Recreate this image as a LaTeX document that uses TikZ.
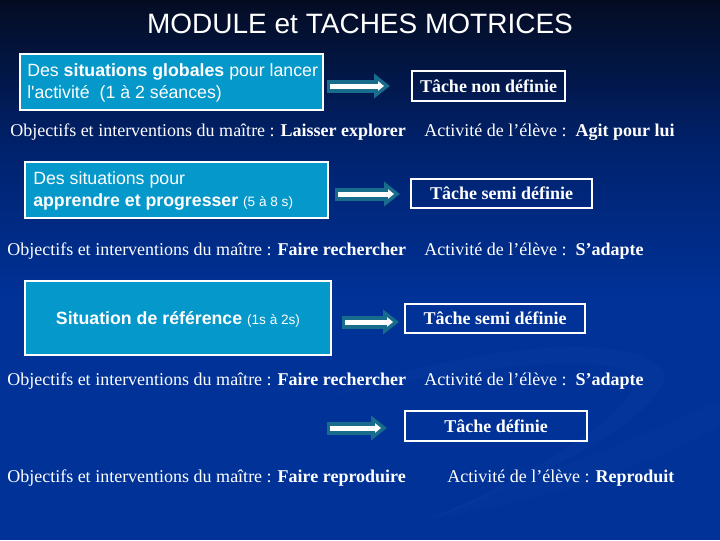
\documentclass[tikz,border=0pt]{standalone}
\usepackage{fontspec}
\setmainfont{Liberation Serif}
\newfontfamily\arialf{Liberation Sans}
\newcommand\smallarial{\arialf\mdseries\fontsize{10.2}{12}\selectfont}
\usetikzlibrary{arrows.meta}
\definecolor{bgtop}{RGB}{4,12,34}
\definecolor{bgmid}{RGB}{0,34,110}
\definecolor{bgbot}{RGB}{0,50,152}
\definecolor{boxblue}{RGB}{5,152,202}
\definecolor{arrteal}{RGB}{24,108,140}
\definecolor{swoosh}{RGB}{25,70,165}
\tikzset{
  bluebox/.style={draw=white, line width=0.8pt, fill=boxblue, inner sep=0pt},
  tachebox/.style={draw=white, line width=0.8pt, inner sep=0pt, text=white, font=\bfseries\fontsize{13.5}{15}\selectfont},
  boxtext/.style={text=white, inner sep=0pt, font=\arialf\fontsize{13.3}{16.5}\selectfont, align=left, anchor=west},
  linetext/.style={text=white, inner sep=0pt, font=\fontsize{13.5}{15}\selectfont, anchor=west},
  tealarrow/.style={draw=arrteal, line width=9.75pt, -{Triangle[length=12pt,width=18pt]}},
  whitearrow/.style={draw=white, line width=3.75pt, -{Triangle[length=4.5pt,width=7pt]}},
}
\begin{document}
\begin{tikzpicture}[x=0.75pt,y=-0.75pt]
\useasboundingbox (0,0) rectangle (720,540);
% background
\fill[bgbot] (0,0) rectangle (720,540);
\shade[top color=bgtop, bottom color=bgbot, middle color=bgmid] (0,0) rectangle (720,300);
% faint swoosh
\fill[swoosh, opacity=0.18] (330,395) .. controls (500,335) and (650,335) .. (665,375) .. controls (660,415) and (560,470) .. (430,520) .. controls (560,460) and (635,410) .. (635,378) .. controls (615,352) and (500,362) .. (330,395) -- cycle;
\fill[swoosh, opacity=0.12] (420,520) .. controls (560,470) and (680,420) .. (720,400) -- (720,425) .. controls (660,460) and (560,500) .. (420,520) -- cycle;
% title
\node[text=white, font=\arialf\fontsize{21}{25}\selectfont] (title) at (360,24) {MODULE et TACHES MOTRICES};
% row 1
\node[bluebox, minimum width=227.25pt, minimum height=42pt] (b1) at (171.5,82) {};
\node[boxtext] (b1t) at (27,83) {Des \textbf{situations globales} pour lancer\\l'activité\ \ (1 à 2 séances)};
\node[tachebox, minimum width=114.75pt, minimum height=22.5pt] (t1) at (488.5,86) {Tâche non définie};
\coordinate (a1s) at (327,86);
\coordinate (a1e) at (390,86);
\coordinate (w1s) at (330,86);
\coordinate (w1e) at (384,86);
\draw[tealarrow] (a1s) -- (a1e);
\draw[whitearrow] (w1s) -- (w1e);
\node[linetext] (o1) at (10,132) {Objectifs et interventions du maître : \textbf{Laisser explorer}};
\node[linetext] (e1) at (424,132) {Activité de l’élève :\ \ \textbf{Agit pour lui}};
% row 2
\node[bluebox, minimum width=227.25pt, minimum height=42pt] (b2) at (176.5,190) {};
\node[boxtext] (b2t) at (33,191) {Des situations pour\\\textbf{apprendre et progresser} {\smallarial(5 à 8 s)}};
\node[tachebox, minimum width=135.75pt, minimum height=21.75pt] (t2) at (501.5,193.5) {Tâche semi définie};
\coordinate (a2s) at (335,194);
\coordinate (a2e) at (400,194);
\coordinate (w2s) at (338,194);
\coordinate (w2e) at (394,194);
\draw[tealarrow] (a2s) -- (a2e);
\draw[whitearrow] (w2s) -- (w2e);
\node[linetext] (o2) at (7,251) {Objectifs et interventions du maître : \textbf{Faire rechercher}};
\node[linetext] (e2) at (424,251) {Activité de l’élève :\ \ \textbf{S’adapte}};
% row 3
\node[bluebox, minimum width=229.5pt, minimum height=55.5pt] (b3) at (178,318) {};
\node[text=white, inner sep=0pt, font=\arialf\fontsize{13.3}{16}\selectfont] (b3t) at (178,319) {\textbf{Situation de référence} {\smallarial(1s à 2s)}};
\node[tachebox, minimum width=135pt, minimum height=21.75pt] (t3) at (495,318.5) {Tâche semi définie};
\coordinate (a3s) at (342,322);
\coordinate (a3e) at (399,322);
\coordinate (w3s) at (345,322);
\coordinate (w3e) at (393,322);
\draw[tealarrow] (a3s) -- (a3e);
\draw[whitearrow] (w3s) -- (w3e);
\node[linetext] (o3) at (7,381) {Objectifs et interventions du maître : \textbf{Faire rechercher}};
\node[linetext] (e3) at (424,381) {Activité de l’élève :\ \ \textbf{S’adapte}};
% row 4
\node[tachebox, minimum width=136.5pt, minimum height=22.5pt] (t4) at (496,426) {Tâche définie};
\coordinate (a4s) at (327,428);
\coordinate (a4e) at (387,428);
\coordinate (w4s) at (330,428);
\coordinate (w4e) at (381,428);
\draw[tealarrow] (a4s) -- (a4e);
\draw[whitearrow] (w4s) -- (w4e);
\node[linetext] (o4) at (7,478) {Objectifs et interventions du maître : \textbf{Faire reproduire}};
\node[linetext] (e4) at (447,478) {Activité de l’élève : \textbf{Reproduit}};
\end{tikzpicture}
\end{document}
